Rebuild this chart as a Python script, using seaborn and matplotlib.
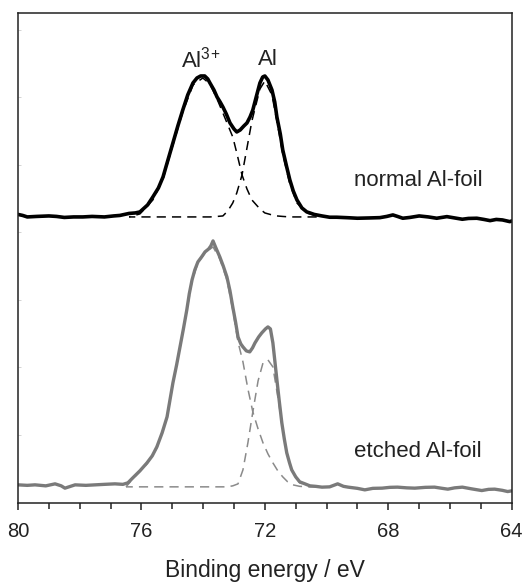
import numpy as np
import pandas as pd
import matplotlib
matplotlib.use("Agg")
import matplotlib.pyplot as plt
import seaborn as sns

sns.set_style("ticks")
plt.rcParams['font.family'] = ['Liberation Sans', 'DejaVu Sans']
plt.rcParams['mathtext.fontset'] = 'custom'
plt.rcParams['mathtext.rm'] = 'Liberation Sans'

# normal Al-foil (measured spectrum, intensity relative to its baseline)
normal_energy = [80.0, 79.85, 79.7, 79.4, 79.0, 78.75, 78.5, 78.2, 77.9, 77.6, 77.2,
                 76.9, 76.7, 76.4, 76.2, 76.05,
                 75.8, 75.63, 75.45, 75.3, 75.15, 74.98, 74.82, 74.66, 74.5, 74.33,
                 74.2, 74.08, 73.95, 73.85, 73.78, 73.65, 73.55, 73.45, 73.36, 73.25,
                 73.13, 73.0, 72.91, 72.8, 72.68, 72.58, 72.48, 72.39, 72.28, 72.16,
                 72.07, 72.0, 71.9, 71.77, 71.68, 71.61, 71.5, 71.42, 71.3, 71.19,
                 71.08, 70.96, 70.8, 70.64, 70.54, 70.4, 70.15, 69.9, 69.67, 69.3,
                 69.0, 68.6, 68.27, 68.05, 67.85, 67.7, 67.53, 67.3, 67.0, 66.7,
                 66.43, 66.1, 65.85, 65.6, 65.4, 65.13, 64.9, 64.7, 64.5, 64.3, 64.06, 64.0]
normal_int = [1.5, 0.5, -1, -0.5, 0, -0.5, -1.5, -1, -1, -0.5, -1,
              0, 0.5, 2.5, 3, 4,
              11, 19, 28, 39, 55, 73, 90, 106, 121, 133,
              138, 140, 140, 137, 133, 126, 119, 114, 109, 102,
              93, 87, 84, 86, 90, 93, 99, 106, 119, 133,
              139, 140, 136, 126, 114, 99, 82, 66, 50, 36,
              25, 16, 8, 4, 3, 1.5, 0, -1.3, -1.3, -1.8,
              -2.3, -2, -1.7, -0.5, 1, -0.5, -2.3, -1.5, 0, -1,
              -2.3, -0.7, -2, -3.3, -2.5, -2.3, -3.5, -4.7, -3.5, -4, -5.7, -5]

# normal Al-foil fitted components
normal_fit_energy = [76.4, 76.05, 75.63, 75.3, 74.98, 74.66, 74.33, 74.01, 73.78,
                     73.55, 73.36, 73.2, 73.04, 72.91, 72.74, 72.58, 72.42, 72.16,
                     72.0, 71.77, 71.61, 71.42, 71.19, 70.96, 70.64, 70.32]
normal_al3 = [0, 3, 17, 38, 72, 105, 132, 139, 133,
              118, 104, 92, 80, 64, 42, 28, 17, 8,
              4, 2, 1, 0.5, 0, 0, 0, 0]
normal_al = [0, 0, 0, 0, 0, 0, 0, 0, 0,
             0.5, 1, 6, 14, 24, 42, 69, 96, 128,
             136, 122, 96, 63, 33, 14, 4, 1]

# etched Al-foil (measured spectrum)
etched_energy = [80.0, 79.7, 79.45, 79.1, 78.8, 78.6, 78.48, 78.3, 78.15, 77.8, 77.5,
                 77.2, 76.86, 76.6, 76.44, 76.28,
                 76.05, 75.82, 75.65, 75.5, 75.33, 75.17, 74.98, 74.86, 74.75, 74.64,
                 74.53, 74.45, 74.36, 74.27, 74.17, 74.05, 73.94, 73.82, 73.75, 73.68,
                 73.6, 73.46, 73.35, 73.23, 73.13, 73.04, 72.95, 72.87, 72.78, 72.71,
                 72.6, 72.49, 72.4, 72.32, 72.2, 72.1, 71.98, 71.9, 71.82, 71.74,
                 71.68, 71.61, 71.53, 71.45, 71.37, 71.29, 71.2, 71.13, 71.0, 70.87,
                 70.7, 70.54, 70.35, 70.15, 69.9, 69.64, 69.45, 69.3, 69.0, 68.76,
                 68.5, 68.2, 67.95, 67.7, 67.4, 67.14, 66.8, 66.5, 66.25, 66.07,
                 65.85, 65.6, 65.3, 64.97, 64.75, 64.55, 64.3, 64.13, 64.0]
etched_int = [2, 1.5, 2, 1, 3, 1, -1.3, 0.5, 2, 1.5, 2,
              2.5, 3, 2.5, 4, 9,
              16, 24, 31, 40, 54, 70, 104, 122, 140, 158,
              177, 193, 207, 217, 225, 230, 235, 238, 241, 246,
              240, 230, 221, 210, 196, 180, 165, 150, 143, 140,
              136, 135, 139, 144, 150, 154, 158, 160, 158, 144,
              127, 107, 85, 64, 48, 34, 24, 17, 10, 5,
              3, 1, 0.5, -0.3, 0, 3, 0.5, -0.3, -1.5, -3,
              -1.5, -1.3, -0.5, -0.3, -1, -1.3, -0.5, -0.3, -1.5, -2.3,
              -1, -0.3, -2, -3.7, -2.5, -2.3, -3.5, -4.7, -4]

# etched Al-foil fitted components
etched_fit_energy = [76.5, 76.28, 75.82, 75.5, 75.17, 74.98, 74.75, 74.53, 74.36,
                     74.17, 73.94, 73.68, 73.46, 73.23, 73.04, 72.87, 72.71, 72.55,
                     72.39, 72.22, 72.06, 71.9, 71.74, 71.58, 71.42, 71.26, 71.09,
                     70.87, 70.54, 70.3]
etched_al3 = [0, 8, 23, 39, 69, 103, 139, 176, 206,
              224, 234, 240, 228, 207, 177, 145, 125, 98,
              75, 58, 44, 33, 24, 16, 10, 5, 2,
              0.5, 0, 0]
etched_al = [0, 0, 0, 0, 0, 0, 0, 0, 0,
             0, 0, 0, 0, 0, 1, 3, 17, 44,
             75, 106, 124, 127, 120, 90, 57, 30, 14,
             4, 1, 0]

offset = 271  # vertical stacking of the normal foil spectrum

fig, ax = plt.subplots(figsize=(5.24, 5.83), dpi=100)
fig.subplots_adjust(left=0.0344, right=0.9765, top=0.9777, bottom=0.138)

dash = (0, (6, 4))
sns.lineplot(x=normal_fit_energy, y=np.array(normal_al3) + offset - 1, ax=ax,
             color='black', lw=1.1, linestyle=dash, estimator=None)
sns.lineplot(x=normal_fit_energy, y=np.array(normal_al) + offset - 1, ax=ax,
             color='black', lw=1.1, linestyle=dash, estimator=None)
sns.lineplot(x=normal_energy, y=np.array(normal_int) + offset, ax=ax,
             color='black', lw=2.6, estimator=None)

sns.lineplot(x=etched_fit_energy, y=etched_al3, ax=ax,
             color='#8a8a8a', lw=1.1, linestyle=dash, estimator=None)
sns.lineplot(x=etched_fit_energy, y=etched_al, ax=ax,
             color='#8a8a8a', lw=1.1, linestyle=dash, estimator=None)
sns.lineplot(x=etched_energy, y=etched_int, ax=ax,
             color='#7a7a7a', lw=2.4, estimator=None)

ax.set_xlim(80, 64)
ax.set_ylim(-15.7, 474)
ax.set_xticks([80, 76, 72, 68, 64])
ax.set_xticks(np.arange(64, 81, 1), minor=True)
ax.set_yticks(np.arange(52, 470, 67.5))
ax.set_yticklabels([])
ax.tick_params(axis='x', which='major', direction='out', length=5, width=1.1,
               labelsize=14.5, pad=9, colors='#222222')
ax.tick_params(axis='x', which='minor', direction='out', length=4, width=1.1,
               colors='#222222')
ax.tick_params(axis='y', direction='in', length=2, width=0.6, colors='#cccccc')
for sp in ax.spines.values():
    sp.set_linewidth(1.1)
    sp.set_color('#222222')

ax.set_xlabel('Binding energy / eV', fontsize=16.5, labelpad=13, color='#222222')
ax.set_ylabel('')

ax.text(74.07, 427, r'Al$^{3\!+}$', fontsize=16, ha='center', va='center', color='#222222')
ax.text(71.9, 427, 'Al', fontsize=16, ha='center', va='center', color='#222222')
ax.text(67.04, 306, 'normal Al-foil', fontsize=16, ha='center', va='center', color='#222222')
ax.text(67.04, 35, 'etched Al-foil', fontsize=16, ha='center', va='center', color='#222222')

fig.savefig('out.png', dpi=100)
